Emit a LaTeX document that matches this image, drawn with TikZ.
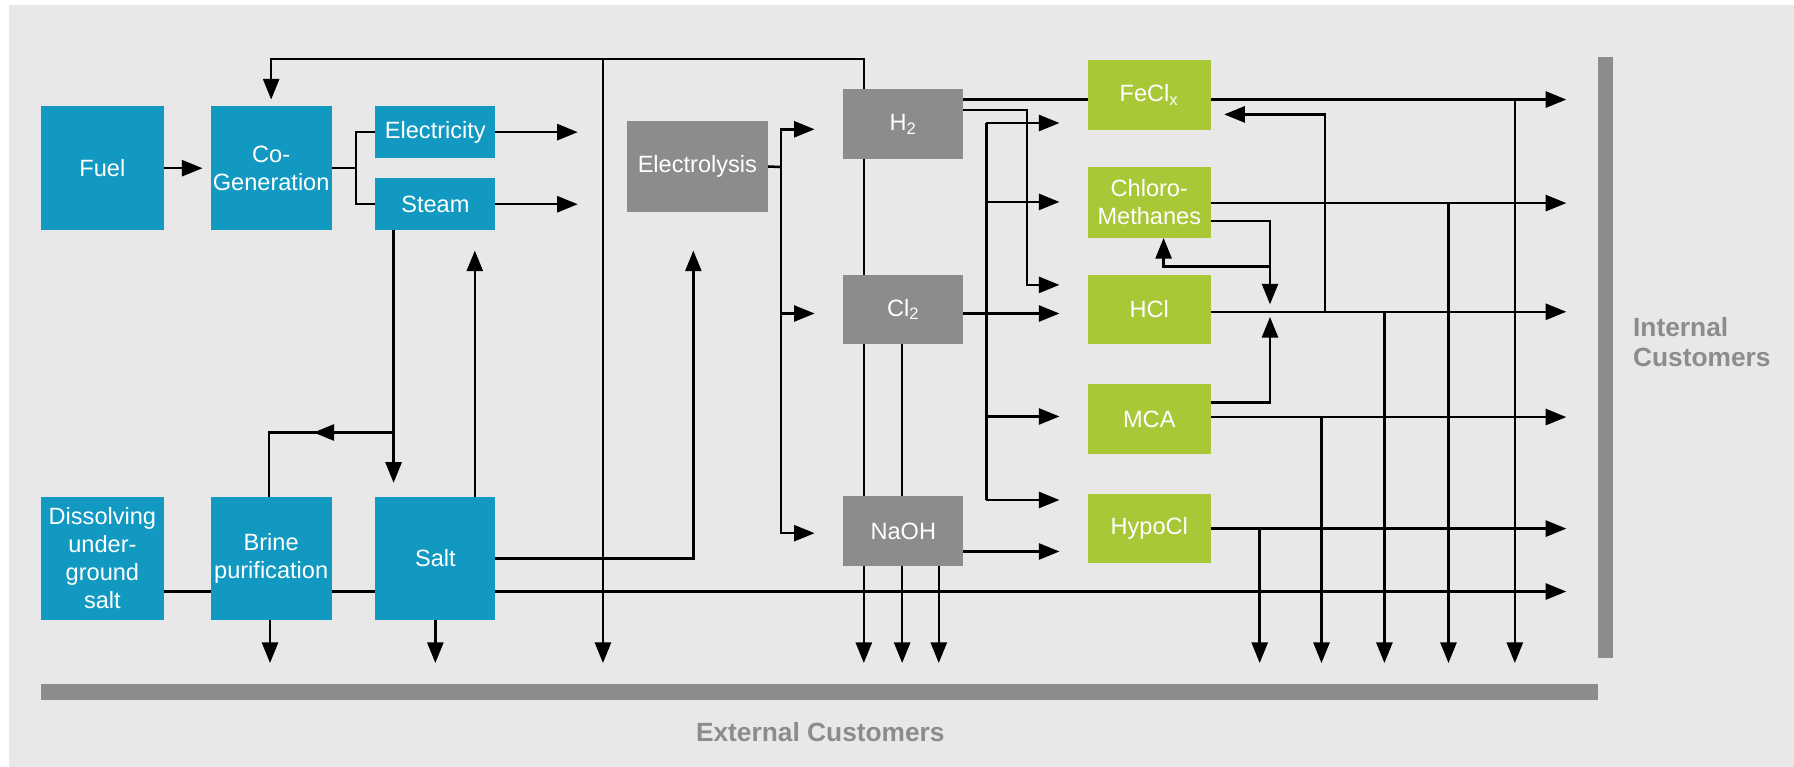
\documentclass[tikz,border=0pt]{standalone}
\usepackage{fontspec}
\setmainfont{Liberation Sans}
\usetikzlibrary{arrows.meta,calc}
\definecolor{bgc}{HTML}{E8E8E8}
\definecolor{bluec}{HTML}{1199C1}
\definecolor{greenc}{HTML}{A8C838}
\definecolor{grayc}{HTML}{8C8C8C}
\pgfdeclarelayer{bg}
\pgfdeclarelayer{lines}
\pgfsetlayers{bg,lines,main}
\tikzset{
  box/.style={inner sep=0pt, outer sep=0pt, text=white, align=center,
    font=\fontsize{10.3}{12.2}\selectfont},
  bluebox/.style={box, fill=bluec},
  graybox/.style={box, fill=grayc},
  greenbox/.style={box, fill=greenc},
  bar/.style={fill=grayc, inner sep=0pt, outer sep=0pt},
  custtext/.style={text=grayc, inner sep=0pt, font=\fontsize{11.5}{13}\selectfont\bfseries},
  conn/.style={line width=1.1pt, black},
  arr/.style={conn, -{Triangle[length=9pt,width=7pt]}},
}
\begin{document}
\begin{tikzpicture}[x=0.5pt, y=-0.5pt]
\useasboundingbox (0,0) rectangle (1568,670);
\begin{pgfonlayer}{bg}
  \fill[white] (0,0) rectangle (1568,670);
  \fill[bgc] (8,4.5) rectangle (1568,670);
\end{pgfonlayer}

% boxes
\node[bluebox, minimum width=53.5pt, minimum height=54pt] (Fuel) at (89.5,147) {Fuel};
\node[bluebox, minimum width=53pt, minimum height=54pt] (CoGen) at (237,147) {Co-\\Generation};
\node[bluebox, minimum width=52.5pt, minimum height=22.5pt] (Elec) at (380.5,115.5) {Electricity};
\node[bluebox, minimum width=52.5pt, minimum height=22.5pt] (Steam) at (380.5,178.5) {Steam};
\node[bluebox, minimum width=53.5pt, minimum height=54pt] (Diss) at (89.5,488) {Dissolving\\under-\\ground\\salt};
\node[bluebox, minimum width=53pt, minimum height=54pt] (Brine) at (237,488) {Brine\\purification};
\node[bluebox, minimum width=52.5pt, minimum height=54pt] (Salt) at (380.5,488) {Salt};
\node[graybox, minimum width=61.5pt, minimum height=39.5pt] (Electrolysis) at (609.5,145.5) {Electrolysis};
\node[graybox, minimum width=52.5pt, minimum height=30.5pt] (H2) at (789.5,108.5) {H\textsubscript{2}};
\node[graybox, minimum width=52.5pt, minimum height=30.5pt] (Cl2) at (789.5,270.5) {Cl\textsubscript{2}};
\node[graybox, minimum width=52.5pt, minimum height=30.5pt] (NaOH) at (789.5,464) {NaOH};
\node[greenbox, minimum width=53.5pt, minimum height=31pt] (FeClx) at (1004.5,83) {FeCl\textsubscript{x}};
\node[greenbox, minimum width=53.5pt, minimum height=31pt] (Chloro) at (1004.5,177) {Chloro-\\Methanes};
\node[greenbox, minimum width=53.5pt, minimum height=30.5pt] (HCl) at (1004.5,270.5) {HCl};
\node[greenbox, minimum width=53.5pt, minimum height=30.5pt] (MCA) at (1004.5,366.5) {MCA};
\node[greenbox, minimum width=53.5pt, minimum height=30.5pt] (HypoCl) at (1004.5,462) {HypoCl};

% customer bars and labels
\node[bar, minimum width=6.5pt, minimum height=262.5pt] (IntBar) at (1403.5,312.5) {};
\node[bar, minimum width=680.5pt, minimum height=7pt] (ExtBar) at (716.5,605) {};
\node[custtext, anchor=west, align=left] (IntLbl) at (1427,299) {Internal\\Customers};
\node[custtext] (ExtLbl) at (717,640) {External Customers};

% reference coordinates
\coordinate (topY) at (0,51.6);
\coordinate (extY) at (0,579.5);
\coordinate (intX) at (1369,0);
\coordinate (outX) at (505,0);
\coordinate (inA) at (712,0);
\coordinate (inB) at (926,0);
\coordinate (upY) at (0,219);

\begin{pgfonlayer}{lines}
% fuel -> co-generation
\draw[arr] (Fuel.east) -- ([xshift=-3.5pt]CoGen.west);
% hydrogen loop back to co-generation, and down to external customers
\coordinate (h2c) at ($(H2.north)+(-34.5,0)$);
\draw[arr] (h2c) |- (topY -| CoGen.north) -- ([yshift=3pt]CoGen.north);
\coordinate (c527) at (527,51.6);
\draw[arr] (c527) -- (c527 |- extY);
\draw[arr] (h2c) -- (h2c |- extY);
\coordinate (cl2d) at ($(Cl2.south)+(-1,0)$);
\draw[arr] (cl2d) -- (cl2d |- extY);
\coordinate (naohd) at ($(NaOH.south)+(31,0)$);
\draw[arr] (naohd) -- (naohd |- extY);
% co-generation split
\coordinate (cgj) at (311,147);
\draw[conn] (CoGen.east) -- (cgj) |- (Elec.west);
\draw[conn] (cgj) |- (Steam.west);
\draw[arr] (Elec.east) -- (Elec.east -| outX);
\draw[arr] (Steam.east) -- (Steam.east -| outX);
% steam down to salt and brine
\coordinate (sts) at ($(Steam.south)+(-36.5,0)$);
\draw[arr] (sts) -- ([yshift=6pt]sts |- Salt.north);
\coordinate (brj) at ($(sts)+(0,177)$);
\draw[arr] (brj) -- ++(-70,0);
\draw[conn] (brj) -| ([xshift=-1pt]Brine.north);
% salt up
\coordinate (saltup) at ($(Salt.north)+(34.5,0)$);
\draw[arr] (saltup) -- (saltup |- upY);
\coordinate (elup) at (606,219);
\draw[arr] (Salt.east) -| (elup);
% long bottom line
\coordinate (bl) at ($(Diss.east)+(0,29)$);
\draw[arr] (bl) -- (bl -| intX);
\draw[arr] ([xshift=-0.5pt]Brine.south) -- ([xshift=-0.5pt]Brine.south |- extY);
\draw[arr] (Salt.south) -- (Salt.south |- extY);
% electrolysis outputs
\coordinate (elj) at (682.5,146);
\draw[conn] (Electrolysis.east) -- (elj);
\draw[arr] (elj) |- ($(H2.west)+(-25,4.5)$);
\draw[arr] (elj) |- ($(Cl2.west)+(-25,3.5)$);
\draw[arr] (elj) |- ($(NaOH.west)+(-25,2)$);
% hydrogen outputs
\draw[conn] ($(H2.east)+(0,-21.5)$) -- ($(FeClx.west)+(0,4)$);
\coordinate (h2j) at (897.5,96);
\draw[arr] ($(H2.east)+(0,-12.5)$) -- (h2j) |- ($(HCl.west)+(-25,-21.5)$);
% chlorine outputs
\draw[arr] ($(Cl2.east)+(0,3.5)$) -- ($(HCl.west)+(-25,3.5)$);
\coordinate (tr1) at (862,107.5);
\coordinate (tr2) at (862,176.5);
\coordinate (tr3) at (862,364);
\coordinate (tr4) at (862,437);
\draw[conn] (tr1) -- (tr4);
\draw[arr] (tr1) -- (tr1 -| inB);
\draw[arr] (tr2) -- (tr2 -| inB);
\draw[arr] (tr3) -- (tr3 -| inB);
\draw[arr] (tr4) -- (tr4 -| inB);
% caustic soda to hypochlorite
\draw[arr] ($(NaOH.east)+(0,18)$) -- ($(HypoCl.west)+(-25,20)$);
% FeClx
\coordinate (fo) at ($(FeClx.east)+(0,4)$);
\draw[arr] (fo) -- (fo -| intX);
\coordinate (v1) at (1324,87);
\draw[arr] (v1) -- (v1 |- extY);
\coordinate (hclj) at (1158,272.5);
\draw[arr] (hclj) |- ($(FeClx.east)+(12,17)$);
% Chloro-Methanes
\coordinate (co) at ($(Chloro.east)+(0,0.5)$);
\draw[arr] (co) -- (co -| intX);
\coordinate (v2) at (1266,177.5);
\draw[arr] (v2) -- (v2 |- extY);
\coordinate (cmd) at (1110,266);
\draw[arr] ($(Chloro.east)+(0,16)$) -| (cmd);
\coordinate (cmb) at (1110,233);
\draw[arr] (cmb) -| ($(Chloro.south)+(12.5,0)$);
% HCl
\coordinate (ho) at ($(HCl.east)+(0,2)$);
\draw[arr] (ho) -- (ho -| intX);
\coordinate (v3) at (1210,272.5);
\draw[arr] (v3) -- (v3 |- extY);
% MCA
\coordinate (mup) at (1110,277);
\draw[arr] ($(MCA.east)+(0,-14.5)$) -| (mup);
\coordinate (mo) at ($(MCA.east)+(0,-2)$);
\draw[arr] (mo) -- (mo -| intX);
\coordinate (v4) at (1155,364.5);
\draw[arr] (v4) -- (v4 |- extY);
% HypoCl
\draw[arr] (HypoCl.east) -- (HypoCl.east -| intX);
\coordinate (v5) at (1101,462);
\draw[arr] (v5) -- (v5 |- extY);
\end{pgfonlayer}
\end{tikzpicture}
\end{document}
